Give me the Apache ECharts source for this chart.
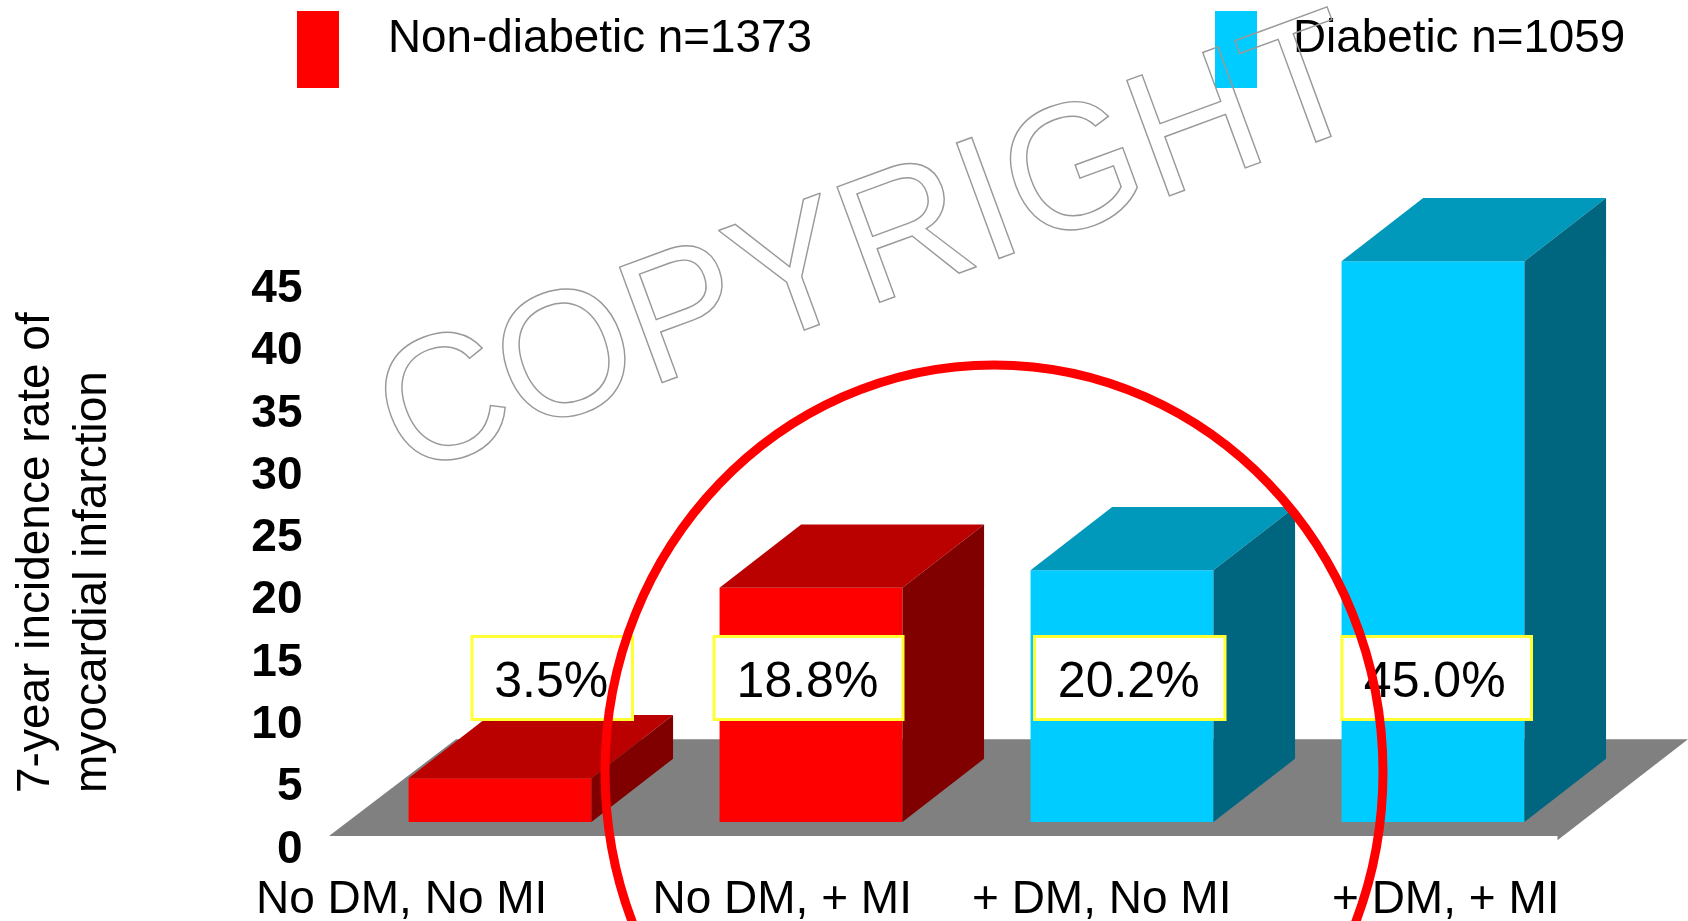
<!DOCTYPE html>
<html>
<head>
<meta charset="utf-8">
<title>7-year incidence of MI</title>
<script src="https://cdn.jsdelivr.net/npm/echarts@6/dist/echarts.min.js"></script>
<style>
html, body { margin: 0; padding: 0; background: #fff; }
#main { width: 1688px; height: 921px; }
</style>
</head>
<body>
<div id="main"></div>
<script>
var categories = ['No DM, No MI', 'No DM, + MI', '+ DM, No MI', '+ DM, + MI'];
var nonDiabetic = [3.5, 18.8, null, null];
var diabetic = [null, null, 20.2, 45.0];
var nonDiabeticName = 'Non-diabetic n=1373';
var diabeticName = 'Diabetic n=1059';
var yTitle = ['7-year incidence rate of', 'myocardial infarction'];

var FONT = '"Liberation Sans", Arial, sans-serif';
var DX = 81.6, DY = -63.3;   // depth of the fake 3d

function barRenderer(front, top, side) {
    return function (params, api) {
        var band = api.size([1, 0])[0];
        var w = band * 0.588;
        var p = api.coord([api.value(0), api.value(1)]);
        var base = api.coord([api.value(0), 0]);
        var x0 = p[0] - w / 2, x1 = p[0] + w / 2, yT = p[1], yB = base[1];
        return {
            type: 'group',
            children: [
                { type: 'rect', shape: { x: x0, y: yT, width: w, height: yB - yT }, style: { fill: front } },
                { type: 'polygon', shape: { points: [[x0, yT], [x1, yT], [x1 + DX, yT + DY], [x0 + DX, yT + DY]] }, style: { fill: top } },
                { type: 'polygon', shape: { points: [[x1, yT], [x1 + DX, yT + DY], [x1 + DX, yB + DY], [x1, yB]] }, style: { fill: side } }
            ]
        };
    };
}

// floor under the bars, hung off the first category and the zero line
function floorRenderer(params, api) {
    var b = api.coord([0, 0]);
    var yF = b[1] + 14, yK = yF - 96.7;
    var xL = b[0] - 171;
    return {
        type: 'polygon',
        shape: { points: [[xL, yF], [xL + 1228.5, yF], [xL + 1228.5, yF + 4.3], [xL + 1359, yK], [xL + 127, yK]] },
        style: { fill: '#808080' }
    };
}

function pairs(list) {
    return list.map(function (v, i) { return v === null ? null : [i, v]; })
        .filter(function (d) { return d !== null; });
}

function boxes() {
    var vals = [nonDiabetic[0], nonDiabetic[1], diabetic[2], diabetic[3]];
    var lefts = [472, 714, 1034.5, 1342];
    var rights = [632.5, 903, 1225, 1531.5];
    var shift = [-1, -1, -1, -2];
    var out = [];
    vals.forEach(function (v, i) {
        out.push({
            type: 'rect', z: 10,
            shape: { x: lefts[i], y: 636.5, width: rights[i] - lefts[i], height: 83 },
            style: { fill: '#fff', stroke: '#ffff33', lineWidth: 3 }
        });
        out.push({
            type: 'text', z: 10,
            x: (lefts[i] + rights[i]) / 2 + shift[i], y: 683,
            style: { text: v.toFixed(1) + '%', font: '50px ' + FONT, fill: '#000', textAlign: 'center', textVerticalAlign: 'middle' }
        });
    });
    return out;
}

function catLabels() {
    var lefts = [256, 652.5, 972, 1332];
    return categories.map(function (c, i) {
        return {
            type: 'text', z: 5, x: lefts[i], y: 900,
            style: { text: c, font: '46px ' + FONT, fill: '#000', textAlign: 'left', textVerticalAlign: 'middle' }
        };
    });
}

// blank second line lifts the name above the middle of the tall swatch
function legendText(name) {
    return name + '\n ';
}

var chartDom = document.getElementById('main');
var myChart = echarts.init(chartDom);
var option;

option = {
    animation: false,
    backgroundColor: '#fff',
    grid: { left: 344.5, right: 99.5, top: 227, bottom: 71 },
    legend: [
        {
            data: [{ name: nonDiabeticName, icon: 'rect', itemStyle: { color: '#ff0000' } }],
            left: 297, top: 11, padding: 0, itemWidth: 42, itemHeight: 77, selectedMode: false,
            formatter: legendText,
            textStyle: { fontFamily: FONT, fontSize: 45.8, lineHeight: 20, color: '#000', padding: [0, 0, 0, 44] }
        },
        {
            data: [{ name: diabeticName, icon: 'rect', itemStyle: { color: '#00ccff' } }],
            left: 1215, top: 11, padding: 0, itemWidth: 42, itemHeight: 77, selectedMode: false,
            formatter: legendText,
            textStyle: { fontFamily: FONT, fontSize: 45.8, lineHeight: 20, color: '#000', padding: [0, 0, 0, 31] }
        }
    ],
    xAxis: [{
        type: 'category',
        data: categories,
        axisLine: { show: false },
        axisTick: { show: false },
        axisLabel: { show: false }
    }],
    yAxis: [
        {
            // the printed scale sits below the bars' real zero
            type: 'value', min: 0, max: 50, interval: 5,
            axisLine: { show: false },
            axisTick: { show: false },
            splitLine: { show: false },
            axisLabel: {
                margin: 42, fontFamily: FONT, fontSize: 46, fontWeight: 'bold', color: '#000',
                formatter: function (v) { return v > 45 ? '' : v; }
            }
        },
        { type: 'value', min: -2.25, max: 47.75, show: false, splitLine: { show: false } }
    ],
    series: [
        {
            name: 'floor', type: 'custom', yAxisIndex: 1, clip: false, silent: true, z: 1,
            renderItem: floorRenderer, data: [[0, 0]]
        },
        {
            name: nonDiabeticName, type: 'custom', yAxisIndex: 1, clip: false, z: 2,
            itemStyle: { color: '#ff0000' },
            renderItem: barRenderer('#ff0000', '#bb0000', '#800000'),
            data: pairs(nonDiabetic)
        },
        {
            name: diabeticName, type: 'custom', yAxisIndex: 1, clip: false, z: 2,
            itemStyle: { color: '#00ccff' },
            renderItem: barRenderer('#00ccff', '#0099bb', '#006680'),
            data: pairs(diabetic)
        }
    ],
    graphic: { elements: [].concat(
        catLabels(),
        [
            {
                type: 'text', z: 5, x: 36, y: 793, rotation: Math.PI / 2,
                style: { text: yTitle[0], font: '46px ' + FONT, fill: '#000', textAlign: 'left', textVerticalAlign: 'middle' }
            },
            {
                type: 'text', z: 5, x: 93, y: 793, rotation: Math.PI / 2,
                style: { text: yTitle[1], font: '46px ' + FONT, fill: '#000', textAlign: 'left', textVerticalAlign: 'middle' }
            }
        ],
        boxes(),
        [
            {
                type: 'ellipse', z: 11,
                shape: { cx: 994, cy: 772, rx: 389, ry: 407 },
                style: { fill: 'none', stroke: '#ff0000', lineWidth: 9 }
            },
            {
                type: 'text', z: 12, x: 418, y: 515, rotation: 20.2 * Math.PI / 180, scaleX: 1.01, scaleY: 1.04,
                style: { text: 'COPYRIGHT', font: '172px ' + FONT, fill: 'transparent', stroke: '#999999', lineWidth: 1.4, textAlign: 'left', textVerticalAlign: 'bottom' }
            }
        ]
    ) }
};

option && myChart.setOption(option);
</script>
</body>
</html>
